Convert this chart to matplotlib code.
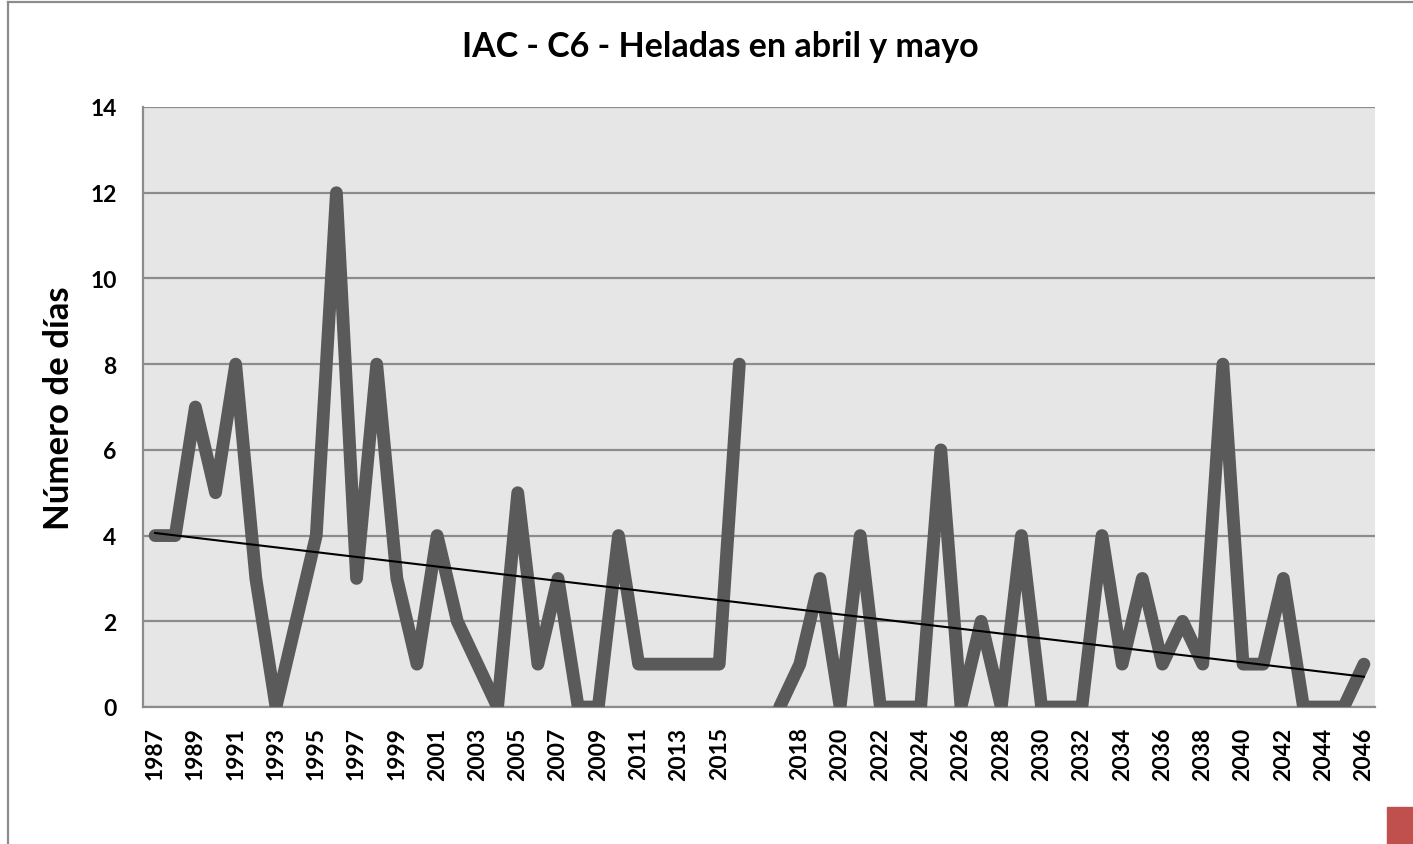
import numpy as np
import matplotlib
matplotlib.use("Agg")
import matplotlib.pyplot as plt
from matplotlib.lines import Line2D
from matplotlib.patches import Rectangle

plt.rcParams['font.family'] = ['Lato', 'DejaVu Sans']
plt.rcParams['font.weight'] = 'bold'

title = "IAC - C6 - Heladas en abril y mayo"
ylabel = "Número de días"

# categories: one blank slot between 2016 and 2017 (as in the source sheet)
years = ["1987", "1988", "1989", "1990", "1991", "1992", "1993", "1994", "1995", "1996",
         "1997", "1998", "1999", "2000", "2001", "2002", "2003", "2004", "2005", "2006",
         "2007", "2008", "2009", "2010", "2011", "2012", "2013", "2014", "2015", "2016",
         "",
         "2017", "2018", "2019", "2020", "2021", "2022", "2023", "2024", "2025", "2026",
         "2027", "2028", "2029", "2030", "2031", "2032", "2033", "2034", "2035", "2036",
         "2037", "2038", "2039", "2040", "2041", "2042", "2043", "2044", "2045", "2046"]

heladas = [4, 4, 7, 5, 8, 3, 0, 2, 4, 12,
           3, 8, 3, 1, 4, 2, 1, 0, 5, 1,
           3, 0, 0, 4, 1, 1, 1, 1, 1, 8,
           None,
           0, 1, 3, 0, 4, 0, 0, 0, 6, 0,
           2, 0, 4, 0, 0, 0, 4, 1, 3, 1,
           2, 1, 8, 1, 1, 3, 0, 0, 0, 1]

yticks = [0, 2, 4, 6, 8, 10, 12, 14]

line_col = '#5a5a5a'
grid_col = '#8c8c8c'

x = np.arange(len(years))
y = np.array([np.nan if v is None else v for v in heladas], dtype=float)

fig = plt.figure(figsize=(14.13, 8.45), dpi=100)
ax = fig.add_axes([143 / 1413, 137 / 845, 1232 / 1413, 600 / 845])
ax.set_facecolor('#e6e6e6')

ax.plot(x, y, color=line_col, lw=9.2, solid_capstyle='round',
        solid_joinstyle='round', zorder=3)

# linear trend (Excel-style, over the category index)
ok = ~np.isnan(y)
m, b = np.polyfit(x[ok], y[ok], 1)
ax.plot([x[0], x[-1]], [b, m * x[-1] + b], color='black', lw=1.5, zorder=4)

ax.set_xlim(-0.6, len(years) - 0.45)
ax.set_ylim(0, 14)
ax.set_yticks(yticks)
ax.set_yticklabels([str(t) for t in yticks])
ax.set_xticks(x[::2])
ax.set_xticklabels(years[::2], rotation=90)
ax.tick_params(axis='y', length=0, pad=19, labelsize=16.5)
ax.tick_params(axis='x', length=0, pad=14, labelsize=16.5)
ax.grid(axis='y', color=grid_col, lw=1.6, zorder=1)
ax.set_axisbelow(True)

for s in ['top', 'right']:
    ax.spines[s].set_visible(False)
for s in ['left', 'bottom']:
    ax.spines[s].set_color(grid_col)
    ax.spines[s].set_linewidth(1.6)

ax.set_ylabel(ylabel, fontsize=25, fontweight='bold')
ax.yaxis.set_label_coords(-0.0552, 0.5)

fig.text(720 / 1413, 1 - 47 / 845, title, ha='center', va='center',
         fontsize=24.5, fontweight='bold')

# outer chart frame (cropped on the right and bottom)
fig.add_artist(Line2D([8 / 1413, 1], [1 - 3 / 845, 1 - 3 / 845], color=grid_col, lw=1.6))
fig.add_artist(Line2D([8 / 1413, 8 / 1413], [0, 1 - 3 / 845], color=grid_col, lw=1.6))
fig.add_artist(Rectangle((1387 / 1413, 0), 26 / 1413, 37 / 845, color='#c0504d',
                         transform=fig.transFigure))

fig.savefig('out.png', dpi=100)
